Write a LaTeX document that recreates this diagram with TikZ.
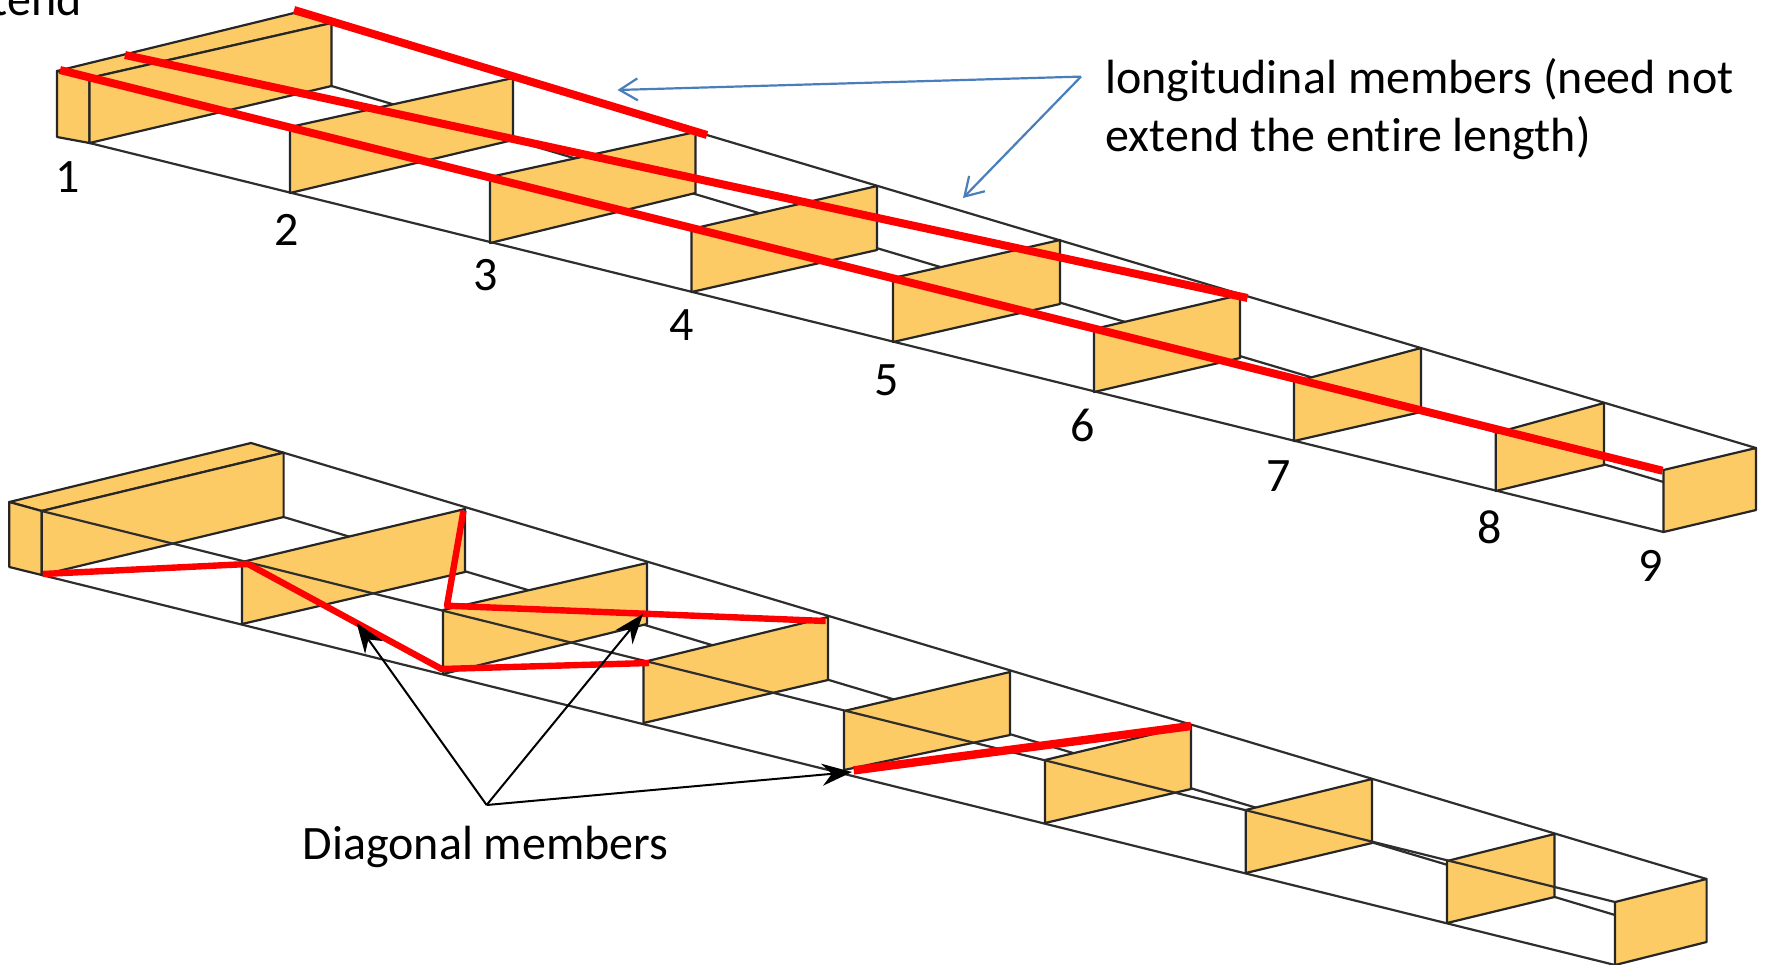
\documentclass[tikz,border=0pt]{standalone}
\usepackage{fontspec}
\setmainfont[Ligatures=NoCommon]{Carlito}
\usetikzlibrary{arrows.meta}
\definecolor{ribfill}{HTML}{FDCB65}
\definecolor{framecol}{HTML}{2E2E2E}
\definecolor{bluearrow}{HTML}{4A7EBB}
\definecolor{redline}{HTML}{FF0000}
\tikzset{
  frameline/.style={draw=framecol,line width=1.1pt},
  ribface/.style={fill=ribfill,draw=black!85,line width=1.1pt,line join=round},
  redthick/.style={draw=redline,line width=4pt},
  redmid/.style={draw=redline,line width=3.2pt,line join=round},
  blackarrow/.style={draw=black,line width=1pt,-{Stealth[length=15pt,width=11pt]}},
  bluearr/.style={draw=bluearrow,line width=1.1pt,-{Straight Barb[length=9pt,width=11pt,line width=1.1pt]}},
  lbl/.style={font=\fontsize{24}{28.8}\selectfont,inner sep=0pt,text=black},
}
\newcommand{\ribq}[6]{\path[ribface] (#1,#2)--(#4,#5)--(#4,#6)--(#1,#3)--cycle;}
\begin{document}
\begin{tikzpicture}[x=0.5pt,y=-0.5pt]
\useasboundingbox (0,0) rectangle (1766,964);
\fill[white] (0,0) rectangle (1766,964);

% ---------- upper wing ----------
\coordinate (ubf) at (89.5,143);
\coordinate (ube) at (1663.5,532);
\coordinate (utb) at (331.5,23);
\coordinate (ute) at (1756,448);
\coordinate (uib) at (331.5,86);
\coordinate (uie) at (1663.5,482);
\draw[frameline] (ubf)--(ube);
\draw[frameline] (utb)--(ute);
\draw[frameline] (uib)--(uie);
\path[ribface] (57,71)--(294,13)--(331.5,23)--(89.5,78)--cycle;
\path[ribface] (57,71)--(89.5,78)--(89.5,143)--(57,137)--cycle;
\ribq{89.5}{78}{143}{331.5}{23}{86}
\ribq{290}{127}{193}{513}{78}{140}
\ribq{490}{177}{243}{695.5}{132}{193}
\ribq{691.5}{229}{292}{877}{186}{250}
\ribq{893}{278}{342}{1060}{240}{304}
\ribq{1094}{329}{392}{1240}{295}{358}
\ribq{1294}{382}{441}{1421}{348}{412}
\ribq{1495.7}{433}{491}{1604}{403}{465}
\ribq{1663.5}{470}{532}{1756}{448}{510}

\coordinate (ur1a) at (294,10);
\coordinate (ur1b) at (707,135);
\coordinate (ur2a) at (125,55);
\coordinate (ur2b) at (1247.5,298);
\coordinate (ur3a) at (60,70);
\coordinate (ur3b) at (1662.5,470.7);
\draw[redthick] (ur1a)--(ur1b);
\draw[redthick] (ur2a)--(ur2b);
\draw[redthick] (ur3a)--(ur3b);

% ---------- lower wing ----------
\coordinate (lbf) at (41.7,575);
\coordinate (lbe) at (1615,965);
\coordinate (ltb) at (283.6,452.7);
\coordinate (lte) at (1706.6,879);
\coordinate (lib) at (283.6,517);
\coordinate (lie) at (1615,915);
\coordinate (lff) at (41.7,511);
\coordinate (lfe) at (1615,902);
\draw[frameline] (lbf)--(lbe);
\draw[frameline] (ltb)--(lte);
\draw[frameline] (lib)--(lie);
\path[ribface] (9.3,502)--(251,443)--(283.6,452.7)--(41.7,511)--cycle;
\path[ribface] (9.3,502)--(41.7,511)--(41.7,575)--(9.3,567)--cycle;
\ribq{41.7}{511}{575}{283.6}{452.7}{517}
\ribq{242}{562}{624}{465}{509}{572}
\ribq{443}{610}{674}{647}{563}{624}
\ribq{643.5}{662}{723}{828}{617}{680}
\ribq{844}{711}{770}{1010}{672}{735}
\ribq{1045}{760}{823}{1191}{725}{789}
\ribq{1245.7}{810}{873}{1372}{779}{843}
\ribq{1447}{861}{923}{1554.5}{834}{897}
\ribq{1615}{902}{965}{1706.6}{879}{942}
\draw[frameline] (lff)--(lfe);

\coordinate (d1) at (42.8,574);
\coordinate (d2) at (248,564);
\coordinate (d3) at (441.6,669);
\coordinate (d4) at (649,663);
\coordinate (d5) at (463.5,510.7);
\coordinate (d6) at (447,605.7);
\coordinate (d7) at (825.6,621);
\coordinate (d8) at (853.7,770.4);
\coordinate (d9) at (1191,726);
\draw[redmid] (d1)--(d2)--(d3)--(d4);
\draw[redmid] (d5)--(d6)--(d7);
\draw[redline,line width=4.2pt] (d8)--(d9);

% ---------- labels ----------
\node[lbl,anchor=base east] (cut) at (82,15) {tend};
\node[lbl] (n1) at (67.5,176.7) {1};
\node[lbl] (n2) at (287,229.6) {2};
\node[lbl] (n3) at (486,275) {3};
\node[lbl] (n4) at (682,325) {4};
\node[lbl] (n5) at (887,380.6) {5};
\node[lbl] (n6) at (1083,425.6) {6};
\node[lbl] (n7) at (1279,476) {7};
\node[lbl] (n8) at (1490,527) {8};
\node[lbl] (n9) at (1651,566) {9};
\node[lbl,align=left,anchor=west] (longi) at (1105,109) {longitudinal members (need not\\extend the entire length)};
\node[lbl] (diag) at (485.6,847) {Diagonal members};

% ---------- pointers ----------
\coordinate (bo) at (1081,76.6);
\coordinate (bt1) at (617.5,90);
\coordinate (bt2) at (963,198);
\draw[bluearr] (bo)--(bt1);
\draw[bluearr] (bo)--(bt2);
\coordinate (ko) at (486.6,805);
\coordinate (kt1) at (356.6,623);
\coordinate (kt2) at (643,614);
\coordinate (kt3) at (852,772);
\draw[blackarrow] (ko)--(kt1);
\draw[blackarrow] (ko)--(kt2);
\draw[blackarrow] (ko)--(kt3);
\end{tikzpicture}
\end{document}
